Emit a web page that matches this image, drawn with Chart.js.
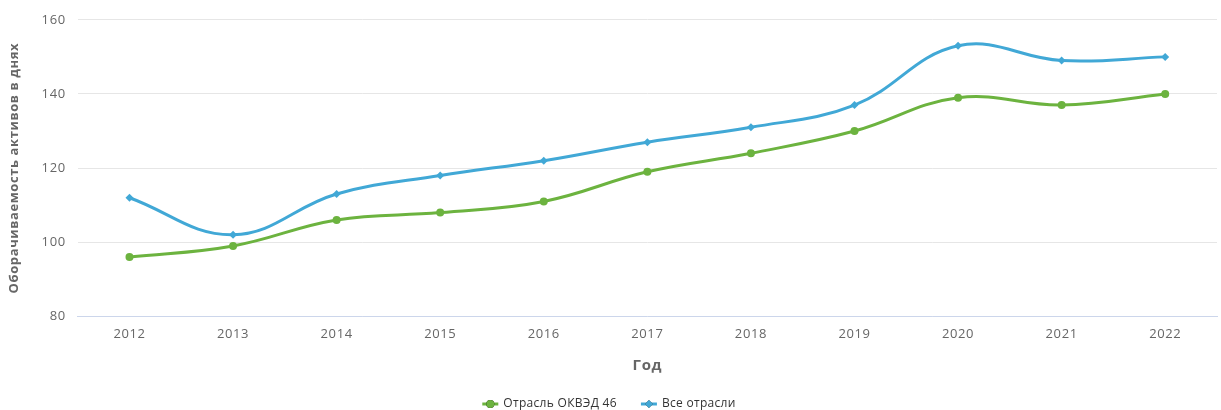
<!DOCTYPE html>
<html>
<head>
<meta charset="utf-8">
<script src="https://cdn.jsdelivr.net/npm/chart.js@4"></script>
<style>
  html, body { margin: 0; padding: 0; background: #fff; }
  #wrap { width: 1221px; height: 410px; position: relative; }
</style>
</head>
<body>
<div id="wrap"><canvas id="grafico"></canvas></div>
<script>
const anos = ["2012", "2013", "2014", "2015", "2016", "2017", "2018", "2019", "2020", "2021", "2022"];
const okved46 = [96, 99, 106, 108, 111, 119, 124, 130, 139, 137, 140];
const todas = [112, 102, 113, 118, 122, 127, 131, 137, 153, 149, 150];
const ticksY = [80, 100, 120, 140, 160];

const fonte = "'Open Sans', 'DejaVu Sans', sans-serif";

// espaçamento entre letras, parecido com o original
const espacamento = {
  id: "espacamento",
  beforeLayout: chart => { chart.ctx.letterSpacing = "0.6px"; },
  beforeDraw: chart => { chart.ctx.letterSpacing = "0.6px"; }
};

// legenda própria: linha curta com o marcador no meio, depois o texto
const legendaLinha = {
  id: "legendaLinha",
  afterDraw: chart => {
    const c = chart.ctx;
    c.save();
    c.letterSpacing = "0.3px";
    c.font = "12px " + fonte;
    c.textBaseline = "middle";
    const y = 404;
    const itens = chart.data.datasets.map(ds => ({ ds, w: 21 + c.measureText(ds.label).width }));
    const gap = 24;
    const total = itens.reduce((s, it) => s + it.w, 0) + gap * (itens.length - 1);
    let x = 609 - total / 2;
    itens.forEach(({ ds, w }) => {
      c.strokeStyle = ds.borderColor;
      c.lineWidth = 3;
      c.beginPath();
      c.moveTo(x, y);
      c.lineTo(x + 16, y);
      c.stroke();
      Chart.helpers.drawPoint(c, { pointStyle: ds.pointStyle, radius: 4, rotation: 0, borderWidth: 0 }, x + 8, y);
      c.fillStyle = ds.backgroundColor;
      c.fill();
      c.fillStyle = "#333";
      c.fillText(ds.label, x + 21, y);
      x += w + gap;
    });
    c.restore();
  }
};

const ctx = document.getElementById("grafico").getContext("2d");
new Chart(ctx, {
  type: "line",
  data: {
    labels: anos,
    datasets: [{
      label: "Отрасль ОКВЭД 46",
      data: okved46,
      borderColor: "#6cb33f",
      backgroundColor: "#6cb33f",
      borderWidth: 3,
      tension: 0.4,
      pointStyle: "circle",
      pointRadius: 4,
      pointBorderWidth: 0
    }, {
      label: "Все отрасли",
      data: todas,
      borderColor: "#41a8d6",
      backgroundColor: "#41a8d6",
      borderWidth: 3,
      tension: 0.4,
      pointStyle: "rectRot",
      pointRadius: 4,
      pointBorderWidth: 0
    }]
  },
  plugins: [espacamento, legendaLinha],
  options: {
    responsive: true,
    maintainAspectRatio: false,
    animation: false,
    layout: { padding: { top: 12, right: 4, left: 2, bottom: 0 } },
    plugins: {
      legend: { display: false },
      tooltip: { enabled: false }
    },
    scales: {
      x: {
        offset: true,
        grid: { display: false, drawTicks: false, offset: true },
        border: { color: "#ccd6eb" },
        ticks: { color: "#666", padding: 10, font: { family: fonte, size: 13 } },
        title: {
          display: true,
          text: "Год",
          color: "#666",
          font: { family: fonte, size: 15, weight: "bold" },
          padding: { top: 5, bottom: 35 }
        }
      },
      y: {
        min: 80,
        max: 160,
        afterBuildTicks: axis => { axis.ticks = ticksY.map(v => ({ value: v })); },
        grid: { color: "#e6e6e6", drawTicks: false },
        border: { display: false },
        ticks: { color: "#666", padding: 12, font: { family: fonte, size: 13 } },
        title: {
          display: true,
          text: "Оборачиваемость активов в днях",
          color: "#666",
          font: { family: fonte, size: 13, weight: "bold" },
          padding: { bottom: 8 }
        }
      }
    }
  }
});
</script>
</body>
</html>
